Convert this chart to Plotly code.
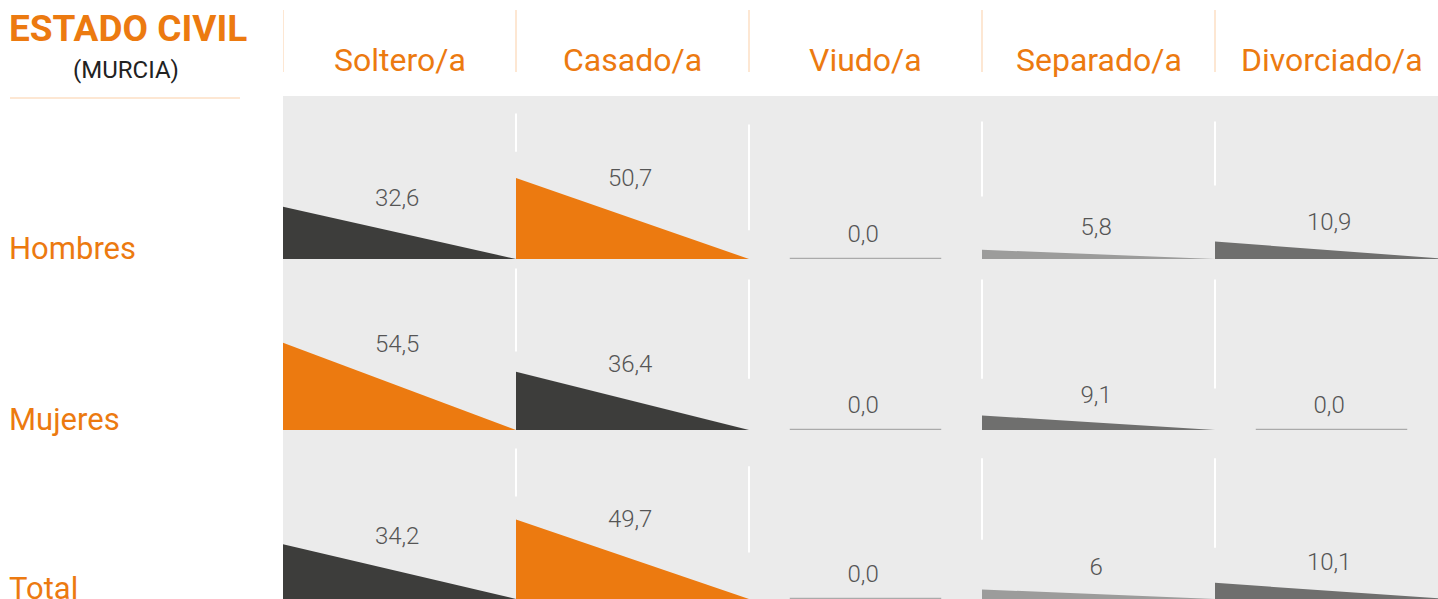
import plotly.graph_objects as go

# ---------------- data ----------------
columns = ["Soltero/a", "Casado/a", "Viudo/a", "Separado/a", "Divorciado/a"]
rows = ["Hombres", "Mujeres", "Total"]
hombres = [32.6, 50.7, 0.0, 5.8, 10.9]
mujeres = [54.5, 36.4, 0.0, 9.1, 0.0]
total = [34.2, 49.7, 0.0, 6.0, 10.1]
hombres_labels = ["32,6", "50,7", "0,0", "5,8", "10,9"]
mujeres_labels = ["54,5", "36,4", "0,0", "9,1", "0,0"]
total_labels = ["34,2", "49,7", "0,0", "6", "10,1"]
title_text = "ESTADO CIVIL"
subtitle_text = "(MURCIA)"

values = [hombres, mujeres, total]
labels = [hombres_labels, mujeres_labels, total_labels]

# ---------------- styling / layout ----------------
W, H = 1438, 599
PX_PER_UNIT = 1.6
COL_W = 233.0
X0 = 283.0
BASELINES = [259, 430, 599]          # px from top
ORANGE = "#ec7a10"
RANK_COLORS = [ORANGE, "#3d3d3b", "#6f6f6e", "#9c9c9b"]
ZERO_COLOR = "#aaaaaa"
BG = "#ebebeb"
PEACH = "#fde7d3"
LABEL_COLOR = "#555555"
FONT = "Roboto"

# decorative white segments: (row, boundary, y_from, y_to) in value units
deco = [
    (0, 1, 67, 91), (0, 2, 18, 84), (0, 3, 39, 86), (0, 4, 46, 86),
    (1, 1, 49, 101), (1, 2, 32, 94), (1, 3, 32, 94), (1, 4, 26, 94),
    (2, 1, 64, 94), (2, 2, 29, 83), (2, 3, 37, 88), (2, 4, 32, 88),
]

fig = go.Figure()

yaxes_names = ["y", "y2", "y3"]
layout_axes = {}
for r, base in enumerate(BASELINES):
    key = "yaxis" if r == 0 else f"yaxis{r+1}"
    layout_axes[key] = dict(
        domain=[(H - base) / H, 1],
        range=[0, base / PX_PER_UNIT],
        visible=False, fixedrange=True, anchor="x",
    )

for r, row_vals in enumerate(values):
    order = sorted([v for v in row_vals if v > 0], reverse=True)
    for c, v in enumerate(row_vals):
        ya = yaxes_names[r]
        if v > 0:
            color = RANK_COLORS[min(order.index(v), len(RANK_COLORS) - 1)]
            fig.add_trace(go.Scatter(
                x=[c, c, c + 1, c], y=[0, v, 0, 0],
                mode="lines", fill="toself", fillcolor=color,
                line=dict(width=0, color=color),
                hoverinfo="skip", showlegend=False, yaxis=ya,
            ))
        else:
            fig.add_trace(go.Scatter(
                x=[c + 0.175, c + 0.825], y=[0, 0],
                mode="lines", line=dict(width=2.5, color=ZERO_COLOR),
                hoverinfo="skip", showlegend=False, yaxis=ya,
            ))
    fig.add_trace(go.Scatter(
        x=[c + 0.49 for c in range(len(row_vals))],
        y=[14.6 + 0.69 * v for v in row_vals],
        mode="text", text=labels[r],
        textfont=dict(family=FONT, size=24, color=LABEL_COLOR, weight=300),
        textposition="middle center", cliponaxis=False,
        hoverinfo="skip", showlegend=False, yaxis=yaxes_names[r],
    ))

shapes = [
    dict(type="rect", xref="paper", yref="paper", x0=X0 / W, x1=1,
         y0=0, y1=(H - 96) / H, fillcolor=BG, line=dict(width=0), layer="below"),
    dict(type="line", xref="paper", yref="paper", x0=10 / W, x1=240 / W,
         y0=(H - 98) / H, y1=(H - 98) / H, line=dict(color=PEACH, width=2)),
]
for b in range(5):
    shapes.append(dict(type="line", xref="x", yref="paper", x0=b, x1=b,
                       y0=(H - 72) / H, y1=(H - 10) / H,
                       line=dict(color=PEACH, width=2)))
for r, b, y0, y1 in deco:
    shapes.append(dict(type="line", xref="x", yref=yaxes_names[r], x0=b, x1=b,
                       y0=y0, y1=y1, line=dict(color="white", width=2),
                       layer="below"))

annotations = []
for c, name in enumerate(columns):
    annotations.append(dict(x=c + 0.5, y=(H - 60) / H, xref="x", yref="paper",
                            text=name, showarrow=False, xanchor="center",
                            yanchor="middle",
                            font=dict(family=FONT, size=32, color=ORANGE)))
row_label_y = [248, 419, 588]
for r, name in enumerate(rows):
    annotations.append(dict(x=7 / W, y=(H - row_label_y[r]) / H, xref="paper",
                            yref="paper", text=name, showarrow=False,
                            xanchor="left", yanchor="middle",
                            font=dict(family=FONT, size=31, color=ORANGE)))
annotations.append(dict(x=7 / W, y=(H - 28) / H, xref="paper", yref="paper",
                        text=f"<b>{title_text}</b>", showarrow=False,
                        xanchor="left", yanchor="middle",
                        font=dict(family=FONT, size=37, color=ORANGE)))
annotations.append(dict(x=126 / W, y=(H - 70) / H, xref="paper", yref="paper",
                        text=subtitle_text, showarrow=False,
                        xanchor="center", yanchor="middle",
                        font=dict(family=FONT, size=24, color="#222222")))

fig.update_layout(
    width=W, height=H,
    margin=dict(l=0, r=0, t=0, b=0),
    paper_bgcolor="white", plot_bgcolor="rgba(0,0,0,0)",
    xaxis=dict(domain=[X0 / W, 1], range=[0, (W - X0) / COL_W],
               visible=False, fixedrange=True),
    shapes=shapes, annotations=annotations,
    showlegend=False,
    **layout_axes,
)

fig.write_html(
    "out.html",
    config={"displayModeBar": False},
    post_script="document.body.style.margin='0';document.body.style.overflow='hidden';",
)
